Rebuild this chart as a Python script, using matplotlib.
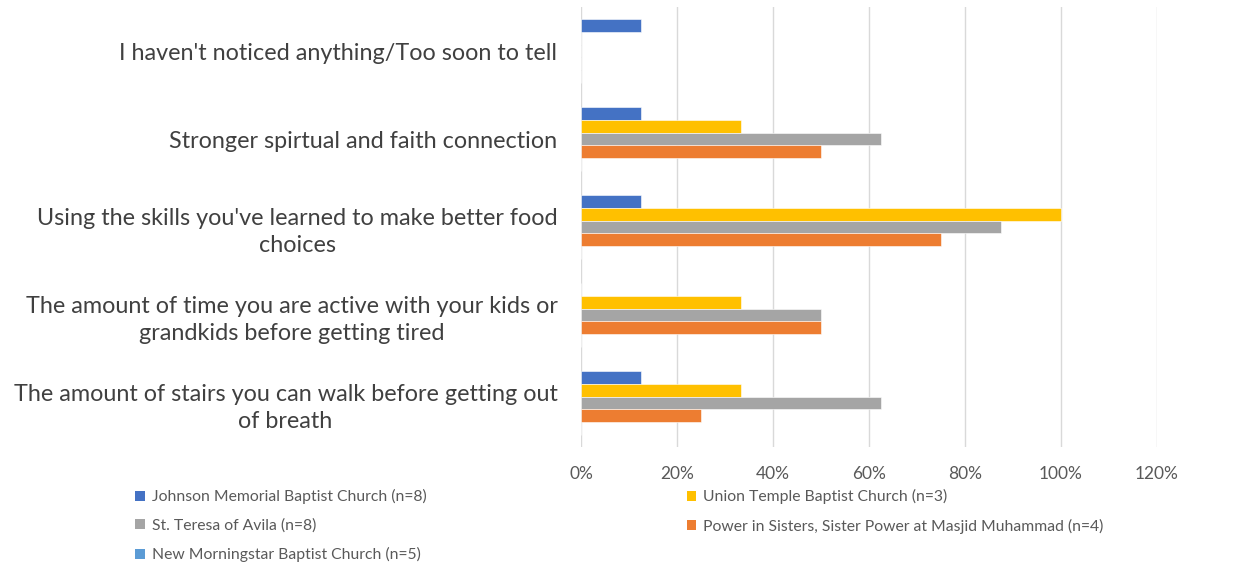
import matplotlib
matplotlib.use("Agg")
import matplotlib.pyplot as plt
from matplotlib.patches import Patch
import numpy as np

plt.rcParams['font.family'] = ['Lato', 'DejaVu Sans']

categories = [
    "I haven't noticed anything/Too soon to tell",
    "Stronger spirtual and faith connection",
    "Using the skills you've learned to make better food\nchoices",
    "The amount of time you are active with your kids or\ngrandkids before getting tired",
    "The amount of stairs you can walk before getting out\nof breath",
]
series_names = [
    "Johnson Memorial Baptist Church (n=8)",
    "Union Temple Baptist Church (n=3)",
    "St. Teresa of Avila (n=8)",
    "Power in Sisters, Sister Power at Masjid Muhammad (n=4)",
    "New Morningstar Baptist Church (n=5)",
]
johnson = [12.5, 12.5, 12.5, 0, 12.5]
union = [0, 33.3, 100, 33.3, 33.3]
teresa = [0, 62.5, 87.5, 50, 62.5]
power = [0, 50, 75, 50, 25]
morningstar = [0, 0, 0, 0, 0]
xticks = [0, 20, 40, 60, 80, 100, 120]
xticklabels = ["0%", "20%", "40%", "60%", "80%", "100%", "120%"]

colors = ["#4472C4", "#FFC000", "#A5A5A5", "#ED7D31", "#5B9BD5"]
values = [johnson, union, teresa, power, morningstar]

fig = plt.figure(figsize=(12.39, 5.69), dpi=100)
ax = fig.add_axes([581/1239, 1-447/569, (1157-581)/1239, (447-7)/569])

h = 0.144
y = np.arange(len(categories))
for j, (vals, c) in enumerate(zip(values, colors)):
    ax.barh(y + (j - 2) * h, vals, height=h, color=c, edgecolor='white', linewidth=0.4, zorder=3)

ax.set_ylim(len(categories) - 0.5, -0.5)
ax.set_xlim(0, 120)
ax.set_xticks(xticks)
ax.set_xticklabels(xticklabels)
ax.set_yticks(y)
ax.set_yticklabels(categories, multialignment='center', linespacing=1.35)
ax.tick_params(axis='y', length=0, pad=17, labelsize=16.8, labelcolor='#404040')
ax.tick_params(axis='x', length=0, pad=14, labelsize=12.5, labelcolor='#595959')
ax.grid(axis='x', color='#D9D9D9', linewidth=1, zorder=0)
for s in ax.spines.values():
    s.set_visible(False)

handles = [Patch(facecolor=c) for c in colors]
order = [0, 2, 4, 1, 3]
leg = fig.legend([handles[i] for i in order], [series_names[i] for i in order],
                 ncol=2, loc='upper left', bbox_to_anchor=(121/1239, 1-475/569),
                 frameon=False, fontsize=11.3, handlelength=0.6, handleheight=0.6,
                 handletextpad=0.45, columnspacing=16.6, labelspacing=0.92,
                 labelcolor='#595959')
fig.savefig("out.png", dpi=100, facecolor='white')
